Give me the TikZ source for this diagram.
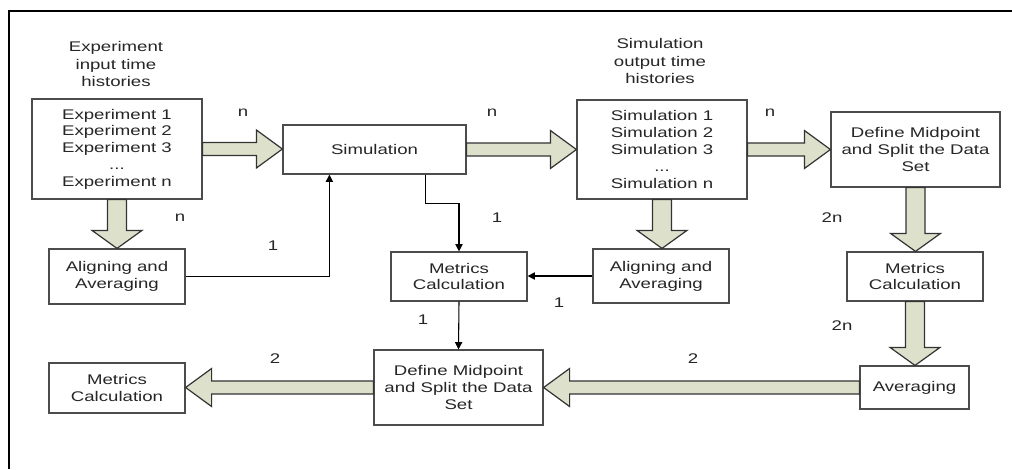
\documentclass[tikz,border=0pt]{standalone}
\usepackage{fontspec}
\setmainfont{Liberation Sans}[FakeStretch=1.33]
\usetikzlibrary{calc,arrows.meta}
\definecolor{fatfill}{RGB}{221,225,203}
\newcommand*{\px}{0.75pt}
% fat arrow sizes
\newcommand*{\shaftH}{4.9pt}
\newcommand*{\headH}{14.25pt}
\newcommand*{\headL}{19.5pt}
\newcommand*{\shaftV}{7.1pt}
\newcommand*{\headV}{18.75pt}
\newcommand*{\headLV}{13.5pt}
\newcommand{\fatH}[2]{%
  \filldraw[fat] let \p1=(#1), \p2=(#2), \n1={ifthenelse(\x2>\x1,1,-1)} in
    (\x1,{\y1+\shaftH}) -- ({\x2-\n1*\headL},{\y1+\shaftH}) -- ({\x2-\n1*\headL},{\y1+\headH})
    -- (\x2,\y1) -- ({\x2-\n1*\headL},{\y1-\headH}) -- ({\x2-\n1*\headL},{\y1-\shaftH})
    -- (\x1,{\y1-\shaftH}) -- cycle;}
\newcommand{\fatV}[2]{%
  \filldraw[fat] let \p1=(#1), \p2=(#2), \n1={ifthenelse(\y2>\y1,1,-1)} in
    ({\x1-\shaftV},\y1) -- ({\x1-\shaftV},{\y2-\n1*\headLV}) -- ({\x1-\headV},{\y2-\n1*\headLV})
    -- (\x1,\y2) -- ({\x1+\headV},{\y2-\n1*\headLV}) -- ({\x1+\shaftV},{\y2-\n1*\headLV})
    -- ({\x1+\shaftV},\y1) -- cycle;}

\begin{document}
\begin{tikzpicture}[x=0.75pt,y=-0.75pt,
  box/.style={draw=black!70,line width=0.9pt,fill=white,align=center,inner sep=0pt,
    text=black!85,font=\fontsize{10.5}{12.6}\selectfont},
  note/.style={align=center,inner sep=0pt,text=black!85,font=\fontsize{10.5}{13}\selectfont},
  lbl/.style={inner sep=0pt,text=black!85,font=\fontsize{10.5}{12}\selectfont},
  fat/.style={fill=fatfill,draw=black!80,line width=0.9pt,line join=miter},
  link/.style={draw=black,line width=0.8pt,-{Triangle[length=5.5pt,width=5.5pt]}}]
	\useasboundingbox (0,0) rectangle (1012,469);
	% frame (only top and left edges show)
	\draw[line width=1.5pt] (1012,10.5) -- (8.5,10.5) -- (8.5,469);

	% top row
	\node[note] (expnote) at (116,64) {Experiment\\input time\\histories};
	\node[note] (simnote) at (660,61) {Simulation\\output time\\histories};
	\node[box,minimum width=170*\px,minimum height=100*\px] (exp) at (117,149)
	    {Experiment 1\\Experiment 2\\Experiment 3\\...\\Experiment n};
	\node[box,minimum width=183*\px,minimum height=49*\px] (sim) at (374.5,149.5) {Simulation};
	\node[box,minimum width=170*\px,minimum height=99*\px] (simout) at (662,149.5)
	    {Simulation 1\\Simulation 2\\Simulation 3\\...\\Simulation n};
	\node[box,minimum width=169*\px,minimum height=75*\px] (defR) at (915.5,149.5)
	    {Define Midpoint\\and Split the Data\\Set};

	% middle row
	\node[box,minimum width=136*\px,minimum height=55*\px] (align1) at (117,276.5) {Aligning and\\Averaging};
	\node[box,minimum width=136*\px,minimum height=49*\px] (metM) at (459,276.5) {Metrics\\Calculation};
	\node[box,minimum width=136*\px,minimum height=54*\px] (align2) at (661,276) {Aligning and\\Averaging};
	\node[box,minimum width=136*\px,minimum height=49*\px] (metR) at (915,276.5) {Metrics\\Calculation};

	% bottom row
	\node[box,minimum width=136*\px,minimum height=50*\px] (metL) at (117,388) {Metrics\\Calculation};
	\node[box,minimum width=169*\px,minimum height=75*\px] (defM) at (458.5,387.5)
	    {Define Midpoint\\and Split the Data\\Set};
	\node[box,minimum width=109*\px,minimum height=43*\px] (avg) at (914.5,387.5) {Averaging};

	% fat arrows
	\fatH{exp.east}{sim.west}
	\fatH{sim.east}{simout.west}
	\fatH{simout.east}{defR.west}
	\fatV{exp.south}{align1.north}
	\fatV{simout.south}{align2.north}
	\fatV{defR.south}{metR.north}
	\fatV{metR.south}{avg.north}
	\fatH{avg.west}{defM.east}
	\fatH{defM.west}{metL.east}

	% thin arrows
	\draw[link] (align1.east) -| ([xshift=47*\px]sim.south west);
	\draw[link] ([xshift=-41*\px]sim.south east) -- ++(0,29) -| (metM.north);
	\draw[link] (align2.west) -- (align2.west -| metM.east);
	\draw[link] (metM.south) -- (defM.north);

	% counts
	\node[lbl] (c1) at (243,113) {n};
	\node[lbl] (c2) at (492,113) {n};
	\node[lbl] (c3) at (770,113) {n};
	\node[lbl] (c4) at (180,218) {n};
	\node[lbl] (c5) at (273,246) {1};
	\node[lbl] (c6) at (497,218) {1};
	\node[lbl] (c7) at (832,218) {2n};
	\node[lbl] (c8) at (559,303) {1};
	\node[lbl] (c9) at (423,320) {1};
	\node[lbl] (c10) at (842,326) {2n};
	\node[lbl] (c11) at (275,359) {2};
	\node[lbl] (c12) at (693,359) {2};
\end{tikzpicture}
\end{document}
